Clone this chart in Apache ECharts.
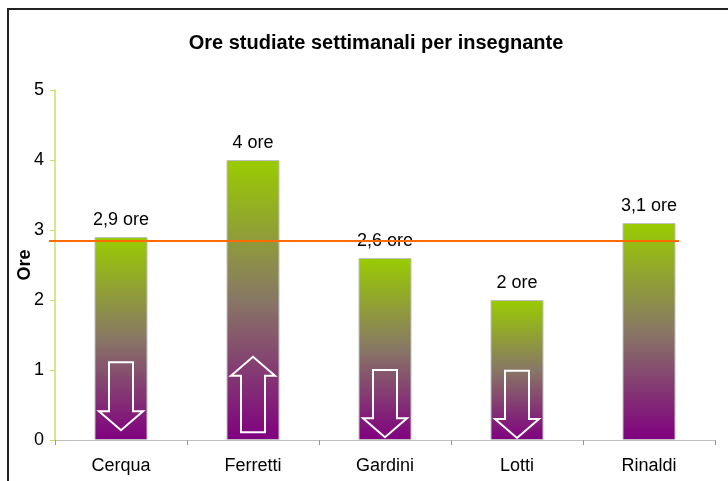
<!DOCTYPE html>
<html>
<head>
<meta charset="utf-8">
<script src="https://cdn.jsdelivr.net/npm/echarts@6/dist/echarts.min.js"></script>
<style>
  html, body { margin: 0; padding: 0; background: #fff; }
  #chart { width: 728px; height: 481px; }
</style>
</head>
<body>
<div id="chart"></div>
<script>
// dati
const teachers = ['Cerqua', 'Ferretti', 'Gardini', 'Lotti', 'Rinaldi']
const hours = [2.9, 4, 2.6, 2, 3.1]
const yTicks = [0, 1, 2, 3, 4, 5]
const refLine = 2.85
// frecce: coda e punta (in ore), null = nessuna freccia
const arrowTail = [1.11, 0.11, 1.0, 0.99, null]
const arrowTip = [0.14, 1.19, 0.04, 0.03, null]

const font = '"Liberation Sans", Arial, sans-serif'

const arrowData = []
teachers.forEach((t, i) => {
  if (arrowTail[i] != null) arrowData.push([i, arrowTail[i], arrowTip[i]])
})

let chart = echarts.init(document.getElementById('chart'))

let option = {
  animation: false,
  textStyle: { fontFamily: font },
  title: {
    text: 'Ore studiate settimanali per insegnante',
    left: 371,
    textAlign: 'center',
    top: 28,
    textStyle: { fontSize: 20, fontWeight: 'bold', color: '#000', fontFamily: font }
  },
  graphic: [
    {
      type: 'rect',
      shape: { x: 8, y: 9, width: 740, height: 500 },
      style: { fill: 'none', stroke: '#222', lineWidth: 2 },
      silent: true
    }
  ],
  grid: {
    left: 55,
    right: 13,
    top: 90,
    bottom: 41,
    outerBoundsMode: 'none'
  },
  xAxis: {
    type: 'category',
    data: teachers,
    axisLine: { lineStyle: { color: '#BFBFBF', width: 1 } },
    axisTick: { show: true, length: 5, lineStyle: { color: '#999' } },
    axisLabel: { color: '#000', fontSize: 18, margin: 17, fontFamily: font }
  },
  yAxis: {
    type: 'value',
    min: yTicks[0],
    max: yTicks[yTicks.length - 1],
    interval: 1,
    name: 'Ore',
    nameLocation: 'middle',
    nameGap: 21,
    nameMoveOverlap: false,
    nameTextStyle: { fontSize: 18, fontWeight: 'bold', color: '#000', fontFamily: font },
    splitLine: { show: false },
    axisLine: { show: true, lineStyle: { color: '#C4E06A', width: 1.5 } },
    axisTick: { show: true, length: 5, lineStyle: { color: '#C4E06A' } },
    axisLabel: { color: '#000', fontSize: 18, margin: 11, fontFamily: font }
  },
  series: [
    {
      type: 'bar',
      data: hours,
      barWidth: 53,
      itemStyle: {
        borderColor: '#C0C0C0',
        borderWidth: 1,
        color: new echarts.graphic.LinearGradient(0, 0, 0, 1, [
          { offset: 0, color: '#99CC00' },
          { offset: 0.5, color: '#887765' },
          { offset: 1, color: '#800080' }
        ])
      },
      label: {
        show: true,
        position: 'top',
        distance: 8,
        color: '#000',
        fontSize: 18,
        fontFamily: font,
        formatter: p => String(p.value).replace('.', ',') + ' ore'
      },
      markLine: {
        silent: true,
        symbol: 'none',
        label: { show: false },
        lineStyle: { color: '#FF6A00', width: 2, type: 'solid' },
        data: [[{ yAxis: refLine, x: 49 }, { yAxis: refLine, x: 679 }]]
      },
      z: 2
    },
    {
      type: 'custom',
      data: arrowData,
      z: 5,
      silent: true,
      renderItem: function (params, api) {
        let tail = api.coord([api.value(0), api.value(1)])
        let tip = api.coord([api.value(0), api.value(2)])
        let cx = tail[0]
        let dir = tip[1] > tail[1] ? 1 : -1
        let headLen = 19
        let sw = 12
        let hw = 22
        let baseY = tip[1] - dir * headLen
        return {
          type: 'polygon',
          shape: {
            points: [
              [cx - sw, tail[1]],
              [cx + sw, tail[1]],
              [cx + sw, baseY],
              [cx + hw, baseY],
              [cx, tip[1]],
              [cx - hw, baseY],
              [cx - sw, baseY]
            ]
          },
          style: { fill: 'none', stroke: '#fff', lineWidth: 2 }
        }
      }
    }
  ]
}

chart.setOption(option)
</script>
</body>
</html>
